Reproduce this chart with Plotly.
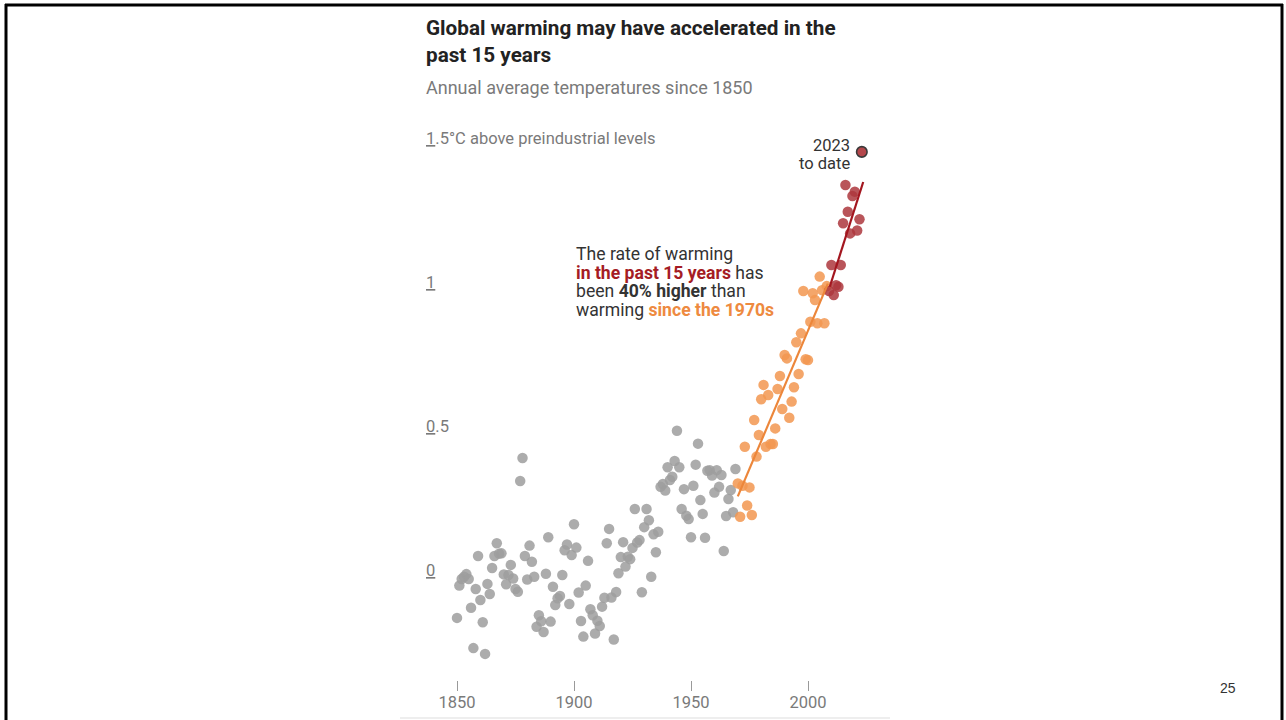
import numpy as np
import plotly.graph_objects as go

# ---------------- data ----------------
gray_years = list(range(1850, 1970))
gray_vals = [
    -0.135, -0.023, 0.000, 0.008, 0.017, 0.000, -0.100, -0.240, -0.035, 0.080,
    -0.073, -0.150, -0.260, -0.017, -0.052, 0.038, 0.080, 0.124, 0.088, 0.089,
    0.016, -0.018, 0.014, 0.049, 0.002, -0.035, -0.044, 0.340, 0.420, 0.080,
    -0.002, 0.116, 0.060, 0.008, -0.166, -0.126, -0.147, -0.184, 0.018, 0.145,
    -0.148, -0.027, -0.090, -0.067, -0.059, 0.014, 0.100, 0.120, -0.087, 0.083,
    0.190, 0.109, -0.047, -0.146, -0.200, -0.023, 0.063, -0.105, -0.126, -0.189,
    -0.145, -0.163, -0.096, -0.065, 0.124, 0.174, -0.064, -0.210, -0.045, 0.020,
    0.076, 0.128, 0.043, 0.077, 0.069, 0.108, 0.243, 0.127, 0.135, -0.046,
    0.180, 0.243, 0.204, 0.008, 0.155, 0.093, 0.164, 0.320, 0.330, 0.307,
    0.388, 0.344, 0.355, 0.410, 0.515, 0.388, 0.243, 0.312, 0.220, 0.208,
    0.145, 0.324, 0.397, 0.470, 0.274, 0.226, 0.143, 0.376, 0.378, 0.359,
    0.300, 0.378, 0.320, 0.361, 0.097, 0.219, 0.278, 0.309, 0.232, 0.382,
]
orange_years = list(range(1970, 2009))
orange_vals = [
    0.332, 0.216, 0.324, 0.459, 0.255, 0.318, 0.222, 0.552, 0.425, 0.500,
    0.624, 0.674, 0.459, 0.639, 0.469, 0.469, 0.523, 0.660, 0.705, 0.590,
    0.778, 0.766, 0.560, 0.616, 0.666, 0.822, 0.712, 0.853, 1.000, 0.763,
    0.760, 0.893, 0.992, 0.969, 0.888, 1.050, 1.003, 0.888, 1.017,
]
red_years = list(range(2009, 2023))
red_vals = [
    1.000, 1.090, 0.986, 1.020, 1.015, 1.090, 1.235, 1.368, 1.275, 1.200,
    1.330, 1.345, 1.210, 1.249,
]
latest_year = [2023]
latest_val = [1.483]

x_tick_vals = [1850, 1900, 1950, 2000]
x_tick_text = ["1850", "1900", "1950", "2000"]
y_tick_vals = [0, 0.5, 1, 1.5]
y_tick_text = ["<u>0</u>", "<u>0</u>.5", "<u>1</u>", "<u>1</u>.5°C above preindustrial levels"]

# trend spans (years over which each line is drawn)
orange_span = [1970, 2008.5]
red_span = [2009.3, 2023.6]

# ---------------- figure ----------------
W, H = 1286, 720
FONT = "Roboto"
GRAY_TXT = "#7a7a7a"
DARK = "#333333"
RED_TXT = "#a51c24"
ORANGE_TXT = "#ee8a40"

def px_x(p):
    return p / W

def px_y(p):
    return 1 - p / H

fig = go.Figure()

marker_common = dict(size=10.5, opacity=0.85, line=dict(width=0))
fig.add_trace(go.Scatter(x=gray_years, y=gray_vals, mode="markers",
                         marker=dict(color="#9e9e9e", **marker_common),
                         hoverinfo="x+y", showlegend=False))
fig.add_trace(go.Scatter(x=orange_years, y=orange_vals, mode="markers",
                         marker=dict(color="#f29650", **marker_common),
                         hoverinfo="x+y", showlegend=False))
fig.add_trace(go.Scatter(x=red_years, y=red_vals, mode="markers",
                         marker=dict(color="#ad373d", **marker_common),
                         hoverinfo="x+y", showlegend=False))

# trend lines computed by least squares
o_coef = np.polyfit(orange_years, orange_vals, 1)
r_coef = np.polyfit(red_years, red_vals, 1)
fig.add_trace(go.Scatter(x=orange_span, y=np.polyval(o_coef, orange_span), mode="lines",
                         line=dict(color="#ec863a", width=2.2), hoverinfo="skip",
                         showlegend=False))
fig.add_trace(go.Scatter(x=red_span, y=np.polyval(r_coef, red_span), mode="lines",
                         line=dict(color="#a3161f", width=2.2), hoverinfo="skip",
                         showlegend=False))

fig.add_trace(go.Scatter(x=latest_year, y=latest_val, mode="markers",
                         marker=dict(color="#b4474b", size=10.5,
                                     line=dict(color="#3a3a3a", width=1.6)),
                         hoverinfo="x+y", showlegend=False))

annotations = []
# title and subtitle
annotations.append(dict(text="<b>Global warming may have accelerated in the</b>",
                        x=px_x(426), y=px_y(28), xref="paper", yref="paper",
                        xanchor="left", yanchor="middle", showarrow=False, xshift=-2,
                        font=dict(family=FONT, size=20.7, color="#222222")))
annotations.append(dict(text="<b>past 15 years</b>",
                        x=px_x(426), y=px_y(55), xref="paper", yref="paper",
                        xanchor="left", yanchor="middle", showarrow=False, xshift=-2,
                        font=dict(family=FONT, size=20.7, color="#222222")))
annotations.append(dict(text="Annual average temperatures since 1850",
                        x=px_x(426), y=px_y(87), xref="paper", yref="paper",
                        xanchor="left", yanchor="middle", showarrow=False, xshift=-2,
                        font=dict(family=FONT, size=18, color=GRAY_TXT)))

# y-axis labels
for v, t in zip(y_tick_vals, y_tick_text):
    annotations.append(dict(text=t, x=px_x(426), y=v, xref="paper", yref="y",
                            xanchor="left", yanchor="bottom", showarrow=False,
                            yshift=-3, xshift=-2,
                            font=dict(family=FONT, size=16.5, color=GRAY_TXT)))

# explanatory note
note_lines = [
    "The rate of warming",
    f"<b><span style='color:{RED_TXT}'>in the past 15 years</span></b> has",
    "been <b>40% higher</b> than",
    f"warming <b><span style='color:{ORANGE_TXT}'>since the 1970s</span></b>",
]
for i, t in enumerate(note_lines):
    annotations.append(dict(text=t, x=px_x(576), y=px_y(254 + i * 18.7),
                            xref="paper", yref="paper", xanchor="left",
                            yanchor="middle", showarrow=False, xshift=-2,
                            font=dict(family=FONT, size=17.6, color=DARK)))

# 2023 label
for i, t in enumerate(["2023", "to date"]):
    annotations.append(dict(text=t, x=px_x(851), y=px_y(146 + i * 17.5),
                            xref="paper", yref="paper", xanchor="right",
                            yanchor="middle", showarrow=False, xshift=1,
                            font=dict(family=FONT, size=16.5, color=DARK)))

# page number
annotations.append(dict(text="25", x=px_x(1228), y=px_y(688), xref="paper",
                        yref="paper", xanchor="center", yanchor="middle",
                        showarrow=False,
                        font=dict(family="Liberation Sans", size=14, color=DARK)))

shapes = [
    dict(type="line", xref="paper", yref="paper", x0=px_x(5), x1=px_x(1283),
         y0=px_y(5), y1=px_y(5), line=dict(color="#000000", width=3)),
    dict(type="line", xref="paper", yref="paper", x0=px_x(6), x1=px_x(6),
         y0=px_y(4), y1=px_y(720), line=dict(color="#000000", width=3)),
    dict(type="line", xref="paper", yref="paper", x0=px_x(1282), x1=px_x(1282),
         y0=px_y(4), y1=px_y(720), line=dict(color="#000000", width=3)),
    dict(type="line", xref="paper", yref="paper", x0=px_x(400), x1=px_x(890),
         y0=px_y(718), y1=px_y(718), line=dict(color="#eeeeee", width=2)),
]

fig.update_layout(
    width=W, height=H, autosize=False,
    margin=dict(l=0, r=0, t=0, b=0),
    paper_bgcolor="white", plot_bgcolor="white",
    xaxis=dict(domain=[px_x(420), px_x(880)], range=[1834.19, 2030.77],
               showgrid=False, zeroline=False, showline=False,
               tickvals=x_tick_vals, ticktext=x_tick_text,
               ticks="outside", ticklen=10, tickwidth=1, tickcolor="#9a9a9a",
               ticklabelstandoff=-3,
               tickfont=dict(family=FONT, size=16.5, color=GRAY_TXT),
               fixedrange=True),
    yaxis=dict(domain=[px_y(680), px_y(120)], range=[-0.3507, 1.59375],
               showgrid=False, zeroline=False, showline=False,
               showticklabels=False, ticks="", fixedrange=True),
    annotations=annotations,
    shapes=shapes,
    showlegend=False,
)

fig.write_html("out.html", config={"displayModeBar": False},
               post_script="document.body.style.margin='0';document.body.style.overflow='hidden';")
